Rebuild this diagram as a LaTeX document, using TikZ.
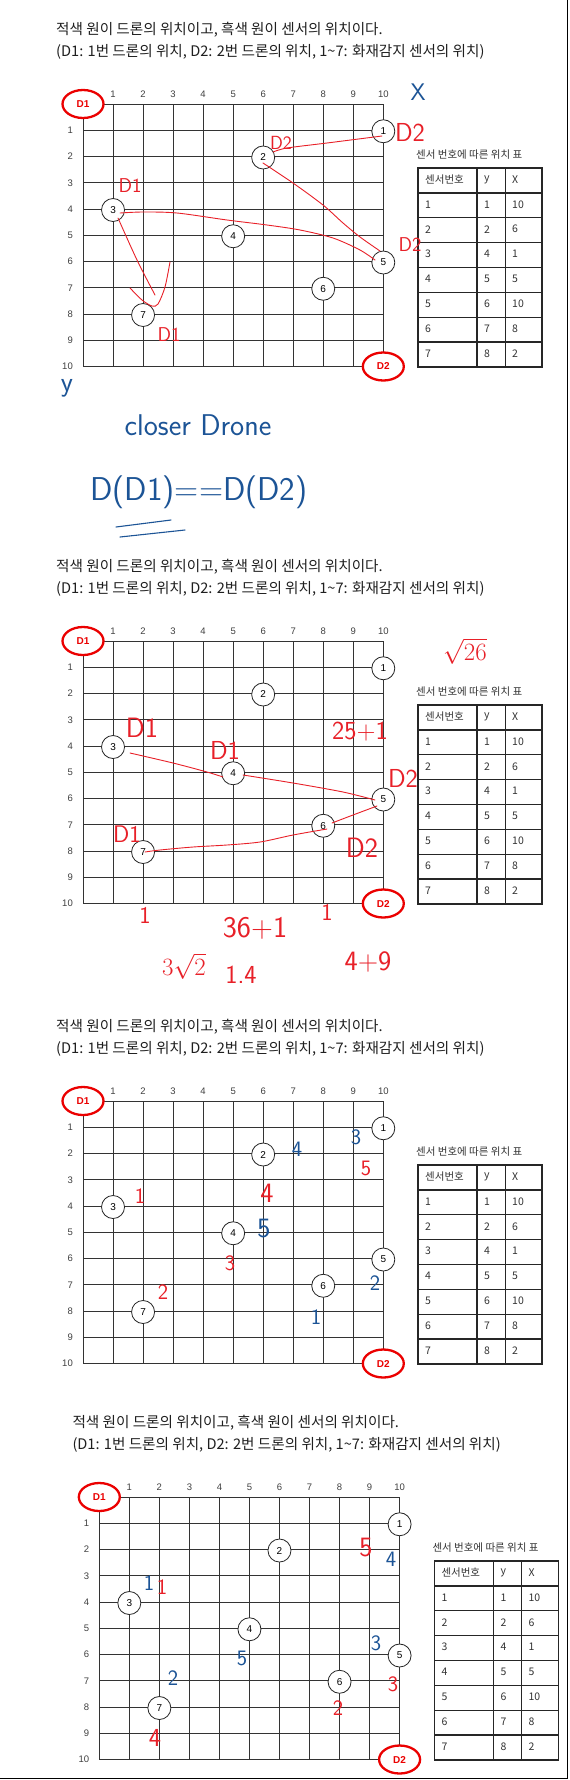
\documentclass[tikz,border=0pt]{standalone}
\usepackage{fontspec}
\setmainfont{Liberation Sans}
\newfontfamily\kor{Noto Sans CJK KR}
\usetikzlibrary{shapes.geometric}
\definecolor{pen}{RGB}{232,32,40}
\definecolor{ink}{RGB}{28,84,150}
\definecolor{dred}{RGB}{235,0,0}
\tikzset{
  gridline/.style={black!80, line width=0.9pt},
  sensor/.style={circle, draw=black!85, fill=white, line width=0.8pt, minimum size=23pt, inner sep=0pt, font=\fontsize{10}{10}\selectfont},
  drone/.style={ellipse, draw=dred, fill=white, line width=2.3pt, minimum width=41pt, minimum height=28pt, inner sep=0pt, text=dred, font=\bfseries\fontsize{10}{10}\selectfont},
  axlab/.style={font=\fontsize{9.5}{10}\selectfont, text=black!75, inner sep=0pt},
  tcell/.style={anchor=west, font=\kor\fontsize{10.5}{11}\selectfont, text=black!80, inner sep=0pt},
  tline/.style={black!85, line width=1.3pt},
  title/.style={anchor=west, font=\kor\fontsize{14.6}{16}\selectfont, text=black!88, inner sep=0pt},
  hwr/.style={text=pen, font=\sffamily\fontsize{22}{22}\selectfont, inner sep=0pt},
  hwb/.style={text=ink, font=\sffamily\fontsize{22}{22}\selectfont, inner sep=0pt},
  stroke/.style={pen, line width=0.9pt, line cap=round, line join=round},
  bstroke/.style={ink, line width=1.1pt, line cap=round, line join=round},
}
\newcommand\drawpanel[3]{%
\begin{scope}[shift={(#2,#3)}]
  \node[title] (#1ta) at (56,30) {적색 원이 드론의 위치이고, 흑색 원이 센서의 위치이다.};
  \node[title] (#1tb) at (56,51.5) {(D1: 1번 드론의 위치, D2: 2번 드론의 위치, 1\textasciitilde 7: 화재감지 센서의 위치)};
  \foreach \i in {0,...,10} {
    \draw[gridline] ({83+30.03*\i},104) -- ({83+30.03*\i},366.5);
    \draw[gridline] (83,{104+26.25*\i}) -- (383.3,{104+26.25*\i});
  }
  \foreach \i in {1,...,10} {
    \node[axlab] (#1cx\i) at ({83+30.03*\i},94) {\i};
    \node[axlab, anchor=east] (#1ry\i) at (73,{104+26.25*\i}) {\i};
  }
  \foreach \ss/\cx/\cy in {1/10/1, 2/6/2, 3/1/4, 4/5/5, 5/10/6, 6/8/7, 7/2/8}
    \node[sensor] (#1s\ss) at ({83+30.03*\cx},{105+26.25*\cy}) {\ss};
  \node[drone] (#1da) at (83,104) {D1};
  \node[drone] (#1db) at (383.3,366.5) {D2};
  \node[tcell] (#1tt) at (416,155) {센서 번호에 따른 위치 표};
  \draw[tline] (418,168) rectangle (542,367);
  \foreach \i in {1,...,7} \draw[tline] (418,{168+24.875*\i}) -- (542,{168+24.875*\i});
  \draw[tline] (477,168) -- (477,367);
  \draw[tline] (505.5,168) -- (505.5,367);
  \node[tcell] (#1ha) at (425,180) {센서번호};
  \node[tcell] (#1hb) at (484,180) {y};
  \node[tcell] (#1hc) at (512,180) {X};
  \foreach \ss/\cy/\cx [count=\r] in {1/1/10,2/2/6,3/4/1,4/5/5,5/6/10,6/7/8,7/8/2} {
    \node[tcell] (#1a\r) at (425,{168+24.875*\r+11.5}) {\ss};
    \node[tcell] (#1b\r) at (484,{168+24.875*\r+11.5}) {\cy};
    \node[tcell] (#1c\r) at (512,{168+24.875*\r+11.5}) {\cx};
  }
\end{scope}}
\begin{document}
\begin{tikzpicture}[x=1pt,y=-1pt]
\useasboundingbox (0,0) rectangle (570,1780);
\fill[white] (0,0) rectangle (570,1780);
\drawpanel{p}{0}{0}
\drawpanel{q}{0}{537}
\drawpanel{r}{0}{997}
\drawpanel{u}{16.3}{1393}
\draw[black, line width=1.3pt] (567.5,0) -- (567.5,1778.5) -- (0,1778.5);

% ---------- panel 1 handwriting ----------
\draw[stroke] plot[smooth] coordinates {(273,152) (287,148) (327,143) (382,136)};
\draw[stroke] plot[smooth] coordinates {(263,163) (293,183) (323,205) (343,223) (360,237) (380,251)};
\draw[stroke] plot[smooth] coordinates {(120,213) (143,212) (177,213) (227,220) (267,225) (300,230) (333,238) (360,250) (375,260)};
\draw[stroke] plot[smooth] coordinates {(118,218) (137,260) (155,295)};
\draw[stroke] plot[smooth] coordinates {(130,288) (142,300) (152,306) (158,304) (165,287) (170,262)};
\node[hwb, font=\sffamily\fontsize{24}{24}\selectfont] (px) at (418,92) {X};
\node[hwr, font=\sffamily\fontsize{26}{26}\selectfont] (pd1) at (410,132) {D2};
\node[hwr, font=\sffamily\fontsize{19}{19}\selectfont] (pd2) at (281,143) {D2};
\node[hwr, font=\sffamily\fontsize{20}{20}\selectfont] (pd3) at (410,245) {D2};
\node[hwr, font=\sffamily\fontsize{20}{20}\selectfont] (pd4) at (130,186) {D1};
\node[hwr, font=\sffamily\fontsize{20}{20}\selectfont] (pd5) at (169,335) {D1};
\node[hwb, font=\sffamily\fontsize{28}{28}\selectfont] (py) at (67,388) {y};
\node[hwb, font=\sffamily\fontsize{30}{30}\selectfont] (pc) at (198,425) {closer Drone};
\node[hwb, font=\sffamily\fontsize{33}{33}\selectfont] (pe) at (199,492) {D(D1)==D(D2)};
\draw[bstroke] (116,527) -- (171,520);
\draw[bstroke] (120,537) -- (185,530);

% ---------- panel 2 handwriting ----------
\draw[stroke] plot[smooth] coordinates {(130,753) (173,763) (207,772) (223,777)};
\draw[stroke] plot[smooth] coordinates {(243,775) (293,783) (343,792) (375,800)};
\draw[stroke] plot[smooth] coordinates {(377,806) (353,815) (332,823)};
\draw[stroke] plot[smooth] coordinates {(327,829) (293,835) (260,842) (227,845) (193,847) (160,850) (145,852)};
\node[hwr, font=\sffamily\fontsize{30}{30}\selectfont] (qa) at (465,651) {$\sqrt{26}$};
\node[hwr, font=\sffamily\fontsize{28}{28}\selectfont] (qb) at (142,728) {D1};
\node[hwr, font=\sffamily\fontsize{26}{26}\selectfont] (qc) at (225,750) {D1};
\node[hwr, font=\sffamily\fontsize{26}{26}\selectfont] (qd) at (360,732) {25+1};
\node[hwr, font=\sffamily\fontsize{26}{26}\selectfont] (qe) at (403,778) {D2};
\node[hwr, font=\sffamily\fontsize{24}{24}\selectfont] (qf) at (127,834) {D1};
\node[hwr, font=\sffamily\fontsize{28}{28}\selectfont] (qg) at (362,848) {D2};
\node[hwr, font=\sffamily\fontsize{24}{24}\selectfont] (qh) at (145,915) {1};
\node[hwr, font=\sffamily\fontsize{30}{30}\selectfont] (qi) at (255,928) {36+1};
\node[hwr, font=\sffamily\fontsize{24}{24}\selectfont] (qj) at (327,912) {1};
\node[hwr, font=\sffamily\fontsize{26}{26}\selectfont] (qk) at (184,966) {$3\sqrt{2}$};
\node[hwr, font=\sffamily\fontsize{26}{26}\selectfont] (ql) at (241,975) {1.4};
\node[hwr, font=\sffamily\fontsize{28}{28}\selectfont] (qm) at (368,962) {4+9};

% ---------- panel 3 handwriting ----------
\node[hwb] (ra) at (356,1137) {3};
\node[hwb] (rb) at (297,1149) {4};
\node[hwr] (rc) at (366,1168) {5};
\node[hwr, font=\sffamily\fontsize{28}{28}\selectfont] (rd) at (267,1193) {4};
\node[hwb, font=\sffamily\fontsize{28}{28}\selectfont] (re) at (264,1229) {5};
\node[hwr] (rf) at (140,1196) {1};
\node[hwr] (rg) at (230,1263) {3};
\node[hwr] (rh) at (163,1292) {2};
\node[hwb] (ri) at (375,1283) {2};
\node[hwb] (rj) at (316,1317) {1};

% ---------- panel 4 handwriting ----------
\node[hwr, font=\sffamily\fontsize{28}{28}\selectfont] (ua) at (366,1548) {5};
\node[hwb] (ub) at (391,1559) {4};
\node[hwb] (uc) at (149,1583) {1};
\node[hwr] (ud) at (162,1587) {1};
\node[hwb] (ue) at (376,1643) {3};
\node[hwb] (uf) at (242,1658) {5};
\node[hwr] (ug) at (393,1684) {3};
\node[hwb] (uh) at (173,1678) {2};
\node[hwr] (ui) at (338,1708) {2};
\node[hwr, font=\sffamily\fontsize{26}{26}\selectfont] (uj) at (155,1738) {4};
\end{tikzpicture}
\end{document}
